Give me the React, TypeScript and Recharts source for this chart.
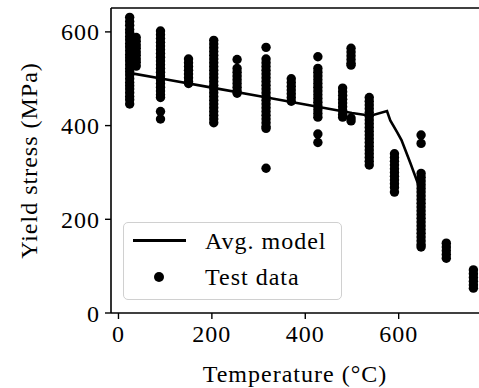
import React from 'react'
import {
  ComposedChart,
  Line,
  Scatter,
  XAxis,
  YAxis,
  ReferenceLine,
} from 'recharts'

// model curve (temperature °C -> yield stress MPa)
const modelTemps = [20, 100, 200, 300, 400, 500, 540, 575, 582, 596, 606, 625, 648]
const modelStress = [513, 499, 481, 463, 445, 427, 421, 431, 411, 387, 369, 320, 258]

// test data, one list per test temperature
const t24 = [631, 622, 614, 605, 598, 590, 583, 575, 568, 560, 552, 545, 538, 530, 522, 515, 508, 500, 492, 485, 478, 470, 462, 455, 446]
const t38 = [588, 580, 572, 565, 557, 550, 542, 535, 527]
const t90 = [602, 594, 586, 578, 570, 562, 554, 546, 538, 530, 522, 514, 506, 498, 490, 482, 474, 466, 460, 430, 414]
const t150 = [542, 534, 526, 518, 510, 502, 494, 490]
const t204 = [582, 574, 566, 558, 550, 542, 534, 526, 518, 510, 502, 494, 486, 478, 470, 462, 454, 446, 438, 430, 422, 414, 406]
const t254 = [541, 522, 514, 506, 498, 490, 482, 474, 469]
const t316 = [567, 542, 534, 526, 518, 510, 502, 494, 486, 478, 470, 462, 454, 446, 438, 430, 422, 414, 406, 398, 394, 309]
const t370 = [500, 492, 484, 476, 468, 460, 452]
const t427 = [547, 522, 514, 506, 498, 490, 482, 474, 466, 458, 450, 442, 434, 426, 418, 382, 364]
const t480 = [480, 472, 464, 456, 448, 440, 432, 424, 418]
const t498 = [565, 557, 549, 541, 533, 529, 416, 410]
const t537 = [460, 452, 444, 436, 428, 420, 412, 404, 396, 388, 380, 372, 364, 356, 348, 340, 332, 324, 316]
const t591 = [340, 332, 324, 316, 308, 300, 292, 284, 276, 268, 258]
const t648 = [380, 362, 298, 290, 282, 274, 266, 258, 250, 242, 234, 226, 218, 210, 202, 194, 186, 178, 170, 162, 154, 146, 141]
const t702 = [149, 141, 133, 125, 117]
const t760 = [92, 84, 76, 68, 60, 53]

const groups: [number, number[]][] = [
  [24, t24], [38, t38], [90, t90], [150, t150], [204, t204], [254, t254],
  [316, t316], [370, t370], [427, t427], [480, t480], [498, t498], [537, t537],
  [591, t591], [648, t648], [702, t702], [760, t760],
]

const xTicks = [0, 200, 400, 600]
const yTicks = [0, 200, 400, 600]

const modelData = modelTemps.map((x, i) => ({ x, y: modelStress[i] }))
const testData = groups.flatMap(([x, ys]) => ys.map((y) => ({ x, y })))

const FONT = '"Liberation Serif", "Times New Roman", serif'
const tickStyle = { fill: '#000', fontSize: 24, fontFamily: FONT, letterSpacing: 1 }

const Dot = (p: any) => <circle cx={p.cx} cy={p.cy} r={4.7} fill="#000" />

const LegendBox = () => (
  <div
    style={{
      position: 'absolute',
      left: 123,
      top: 222,
      width: 217,
      height: 76,
      border: '1.5px solid #d0d0d0',
      borderRadius: 5,
      background: 'rgba(255,255,255,0.85)',
      fontFamily: FONT,
      fontSize: 24,
      letterSpacing: 1,
      color: '#000',
    }}
  >
    <div style={{ position: 'absolute', left: 9, top: 16, width: 53, height: 3, background: '#000' }} />
    <div style={{ position: 'absolute', left: 81, top: 3, lineHeight: '30px' }}>Avg. model</div>
    <div style={{ position: 'absolute', left: 30, top: 49, width: 10, height: 10, borderRadius: 5, background: '#000' }} />
    <div style={{ position: 'absolute', left: 81, top: 39, lineHeight: '30px' }}>Test data</div>
  </div>
)

export default function App() {
  return (
    <div style={{ position: 'absolute', left: 0, top: 0, width: 479, height: 388, background: '#fff' }}>
      <ComposedChart width={479} height={388} margin={{ top: 8, right: 0, bottom: 0, left: 0 }}>
        <XAxis
          dataKey="x"
          type="number"
          domain={[-16, 772]}
          ticks={xTicks}
          height={75}
          tickSize={6}
          tickMargin={6}
          allowDataOverflow
          axisLine={{ stroke: '#000', strokeWidth: 1.6 }}
          tickLine={{ stroke: '#000', strokeWidth: 1.4 }}
          tick={tickStyle}
          label={{
            value: 'Temperature (°C)',
            position: 'insideBottom',
            offset: 6,
            style: { fill: '#000', fontSize: 24, fontFamily: FONT, letterSpacing: 1 },
          }}
        />
        <YAxis
          dataKey="y"
          type="number"
          domain={[0, 651]}
          ticks={yTicks}
          width={111}
          tickSize={6}
          tickMargin={5}
          allowDataOverflow
          axisLine={{ stroke: '#000', strokeWidth: 1.6 }}
          tickLine={{ stroke: '#000', strokeWidth: 1.4 }}
          tick={tickStyle}
          label={{
            value: 'Yield stress (MPa)',
            angle: -90,
            position: 'insideLeft',
            offset: 0,
            dx: 28,
            style: { fill: '#000', fontSize: 24, fontFamily: FONT, letterSpacing: 1, textAnchor: 'middle' },
          }}
        />
        <ReferenceLine y={651} stroke="#000" strokeWidth={1.6} ifOverflow="extendDomain" />
        <Scatter name="Test data" data={testData} shape={Dot} isAnimationActive={false} />
        <Line
          name="Avg. model"
          data={modelData}
          dataKey="y"
          type="linear"
          stroke="#000"
          strokeWidth={2.6}
          dot={false}
          isAnimationActive={false}
        />
      </ComposedChart>
      <LegendBox />
    </div>
  )
}
